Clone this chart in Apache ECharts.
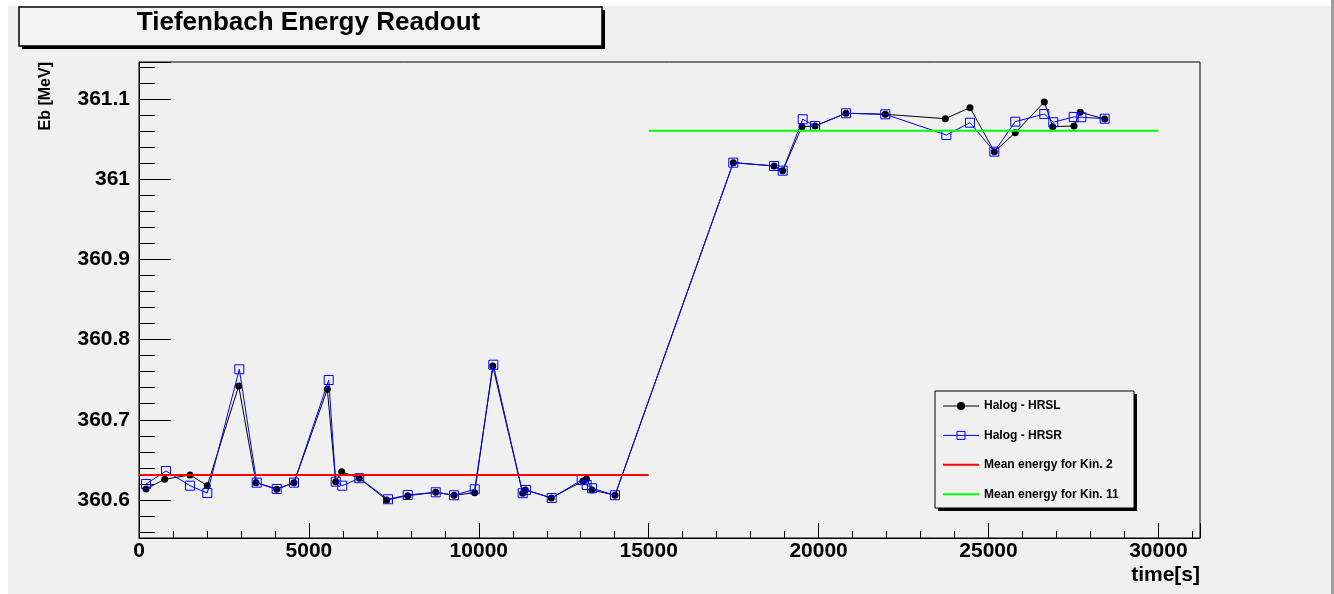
<!DOCTYPE html>
<html>
<head>
<meta charset="utf-8">
<title>Tiefenbach Energy Readout</title>
<script src="https://cdn.jsdelivr.net/npm/echarts@6/dist/echarts.min.js"></script>
<style>
  html, body { margin: 0; padding: 0; background: #fff; }
  #chart { width: 1334px; height: 594px; }
</style>
</head>
<body>
<div id="chart"></div>
<script>
// readouts, time in s and beam energy in MeV
const hrslTime = [206, 756, 1501, 2010, 2934, 3443, 4052, 4562, 5542, 5789, 5966, 6483, 7290, 7908, 8732, 9270, 9880, 10410, 11292, 11369, 12134, 13067, 13170, 13332, 14009, 17490, 18688, 18944, 19512, 19895, 20807, 21964, 23730, 24456, 25172, 25789, 26643, 26890, 27517, 27702, 28420];
const hrslEnergy = [360.6137, 360.6258, 360.6312, 360.6178, 360.7421, 360.6216, 360.6133, 360.6216, 360.7380, 360.6228, 360.6353, 360.6271, 360.6000, 360.6054, 360.6096, 360.6059, 360.6091, 360.7671, 360.6084, 360.6125, 360.6025, 360.6237, 360.6262, 360.6125, 360.6059, 361.0206, 361.0165, 361.0106, 361.0655, 361.0663, 361.0822, 361.0809, 361.0754, 361.0892, 361.0343, 361.0580, 361.0963, 361.0655, 361.0663, 361.0834, 361.0751];

const hrsrTime = [206, 795, 1501, 2010, 2952, 3464, 4052, 4562, 5583, 5789, 5983, 6483, 7328, 7908, 8732, 9270, 9880, 10427, 11292, 11389, 12146, 13029, 13176, 13332, 14009, 17490, 18688, 18944, 19532, 19895, 20807, 21964, 23759, 24456, 25172, 25789, 26643, 26908, 27508, 27732, 28420];
const hrsrEnergy = [360.6200, 360.6362, 360.6178, 360.6087, 360.7630, 360.6216, 360.6137, 360.6216, 360.7496, 360.6228, 360.6178, 360.6271, 360.6009, 360.6062, 360.6096, 360.6059, 360.6133, 360.7687, 360.6084, 360.6125, 360.6025, 360.6249, 360.6187, 360.6146, 360.6059, 361.0206, 361.0165, 361.0106, 361.0747, 361.0663, 361.0822, 361.0809, 361.0551, 361.0704, 361.0343, 361.0717, 361.0813, 361.0710, 361.0776, 361.0772, 361.0754];

// mean energies
const kin2Time = [0, 15000];
const kin2Energy = [360.6312, 360.6312];
const kin11Time = [15000, 30000];
const kin11Energy = [361.0605, 361.0605];

const seriesNames = ['Halog - HRSL', 'Halog - HRSR', 'Mean energy for Kin. 2', 'Mean energy for Kin. 11'];

const FONT = '"Liberation Sans", Arial, Helvetica, sans-serif';

function pairs(ts, es) {
  return ts.map(function (t, i) { return [t, es[i]]; });
}

const chart = echarts.init(document.getElementById('chart'), null, { renderer: 'canvas' });

chart.setOption({
  animation: false,
  backgroundColor: '#f0f0f0',
  grid: {
    left: 139, right: 134, top: 62, bottom: 56,
    show: true, borderColor: '#000', borderWidth: 1, backgroundColor: 'transparent'
  },
  xAxis: {
    type: 'value', min: 0, max: 31225, interval: 5000,
    axisLine: { show: true, lineStyle: { color: '#000', width: 1 } },
    axisTick: { show: true, inside: true, length: 15, lineStyle: { color: '#000' } },
    minorTick: { show: true, splitNumber: 5, length: 7, lineStyle: { color: '#000' } },
    axisLabel: {
      color: '#000', fontFamily: FONT, fontWeight: 'bold', fontSize: 21, margin: 3,
      showMaxLabel: false, formatter: function (v) { return String(v); }
    },
    splitLine: { show: false }
  },
  yAxis: {
    type: 'value', min: 360.5526, max: 361.1461, splitNumber: 5,
    axisLine: { show: true, lineStyle: { color: '#000', width: 1 } },
    axisTick: { show: true, inside: true, length: 32, lineStyle: { color: '#000' } },
    minorTick: { show: true, splitNumber: 5, length: 16, lineStyle: { color: '#000' } },
    axisLabel: {
      color: '#000', fontFamily: FONT, fontWeight: 'bold', fontSize: 21, margin: 9,
      showMinLabel: false, showMaxLabel: false,
      formatter: function (v) { return String(Math.round(v * 10) / 10); }
    },
    splitLine: { show: false }
  },
  legend: {
    left: 935, top: 391, orient: 'vertical',
    padding: [9, 15, 8, 7], itemWidth: 36, itemHeight: 10, itemGap: 17.4,
    selectedMode: false, z: 10,
    textStyle: { color: '#000', fontFamily: FONT, fontWeight: 'bold', fontSize: 12 },
    data: [
      { name: seriesNames[0], lineStyle: { width: 1 }, itemStyle: { borderWidth: 0 } },
      { name: seriesNames[1], lineStyle: { width: 1 }, itemStyle: { borderWidth: 1 } },
      { name: seriesNames[2], itemStyle: { opacity: 0 } },
      { name: seriesNames[3], itemStyle: { opacity: 0 } }
    ]
  },
  graphic: [
    { type: 'rect', silent: true, shape: { x: 0, y: 0, width: 1334, height: 6 }, style: { fill: '#fff' } },
    { type: 'rect', silent: true, shape: { x: 0, y: 0, width: 8, height: 594 }, style: { fill: '#fff' } },
    { type: 'rect', silent: true, shape: { x: 1331, y: 0, width: 3, height: 594 }, style: { fill: '#a0a0a0' } },
    // title box with drop shadow
    { type: 'rect', silent: true, z: 5, shape: { x: 22, y: 10, width: 583, height: 39 }, style: { fill: '#000' } },
    { type: 'rect', silent: true, z: 6, shape: { x: 19, y: 7, width: 583, height: 39 }, style: { fill: '#f3f3f3', stroke: '#000', lineWidth: 1.5 } },
    { type: 'text', silent: true, z: 7, x: 308.5, y: 23,
      style: { text: 'Tiefenbach Energy Readout', font: 'bold 26px ' + FONT, fill: '#000', align: 'center', verticalAlign: 'middle' } },
    // legend box with drop shadow
    { type: 'rect', silent: true, z: 5, shape: { x: 938, y: 394, width: 199, height: 117 }, style: { fill: '#000' } },
    { type: 'rect', silent: true, z: 6, shape: { x: 935, y: 391, width: 199, height: 117 }, style: { fill: '#f0f0f0', stroke: '#000', lineWidth: 1 } },
    // axis titles
    { type: 'text', silent: true, z: 7, x: 46, y: 62, rotation: Math.PI / 2,
      style: { text: 'Eb [MeV]', font: 'bold 16px ' + FONT, fill: '#000', align: 'right', verticalAlign: 'middle' } },
    { type: 'text', silent: true, z: 7, x: 1200, y: 565,
      style: { text: 'time[s]', font: 'bold 21px ' + FONT, fill: '#000', align: 'right', verticalAlign: 'top' } }
  ],
  series: [
    {
      name: seriesNames[0], type: 'line', data: pairs(hrslTime, hrslEnergy),
      symbol: 'circle', symbolSize: 7, z: 3,
      itemStyle: { color: '#000' }, lineStyle: { color: '#000', width: 1 }
    },
    {
      name: seriesNames[1], type: 'line', data: pairs(hrsrTime, hrsrEnergy),
      symbol: 'rect', symbolSize: 9, z: 4,
      itemStyle: { color: 'rgba(0,0,0,0)', borderColor: '#0000ff', borderWidth: 1 },
      lineStyle: { color: '#0000ff', width: 1 }
    },
    {
      name: seriesNames[2], type: 'line', data: pairs(kin2Time, kin2Energy),
      symbol: 'none', z: 5,
      itemStyle: { color: '#ff0000' }, lineStyle: { color: '#ff0000', width: 2 }
    },
    {
      name: seriesNames[3], type: 'line', data: pairs(kin11Time, kin11Energy),
      symbol: 'none', z: 5,
      itemStyle: { color: '#00ff00' }, lineStyle: { color: '#00ff00', width: 2 }
    }
  ]
});
</script>
</body>
</html>
